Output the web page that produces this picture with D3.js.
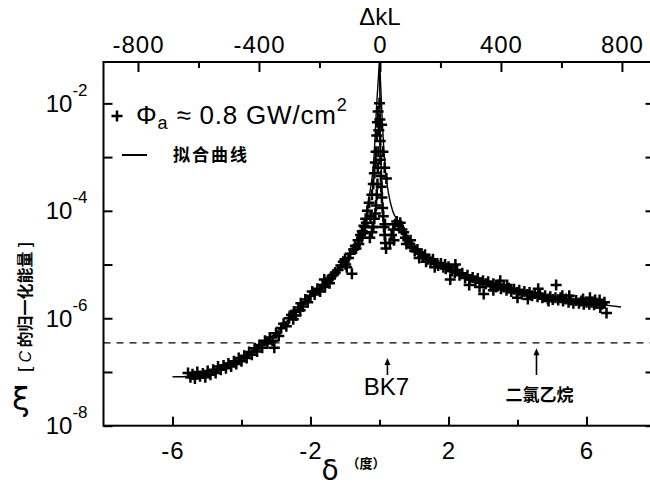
<!DOCTYPE html>
<html>
<head>
<meta charset="utf-8">
<script src="https://cdn.jsdelivr.net/npm/d3@7"></script>
<style>
body{margin:0;background:#fff}
svg{display:block}
text{fill:#000}
</style>
</head>
<body>
<svg id="chart" width="650" height="494"></svg>
<script>
// measured points: detuning delta (deg) and log10 of normalized energy xi
var ptDelta = [
  -5.55,-5.48,-5.42,-5.35,-5.28,-5.2,-5.12,-5.05,-4.98,-4.9,-4.82,-4.75,-4.68,-4.6,-4.52,-4.45,-4.38,-4.3,-4.22,-4.15,
  -4.08,-4.0,-3.92,-3.85,-3.78,-3.7,-3.62,-3.55,-3.48,-3.4,-3.32,-3.25,-3.18,-3.1,-3.05,-3.0,-2.92,-2.85,-2.78,-2.7,
  -2.62,-2.55,-2.48,-2.42,-2.35,-2.28,-2.22,-2.15,-2.08,-2.0,-1.95,-1.88,-1.8,-1.72,-1.65,-1.58,-1.5,-1.42,-1.35,-1.28,
  -1.2,-1.12,-1.05,-0.98,-0.9,-0.85,-0.8,-0.75,-0.7,-0.62,-0.55,-0.5,-0.45,-0.4,-0.35,-0.3,-0.26,-0.22,-0.2,-0.18,
  -0.15,-0.12,-0.1,-0.08,-0.06,-0.04,
  -2.5,-2.3,-1.6,-1.45,-1.0,-0.95,-0.68,-0.6,-0.52,-0.48,-0.42,-0.38,
  0.0,0.01,-0.02,0.02,-0.03,0.03,-0.05,0.04,-0.06,0.05,-0.08,0.07,-0.1,-0.12,-0.15,-0.18,-0.22,-0.28,
  0.09,0.11,0.13,0.15,0.17,0.19,0.16,
  0.06,0.1,0.15,0.2,
  0.3,0.35,0.4,0.45,0.5,0.55,0.6,0.65,0.7,0.42,
  0.75,0.82,0.88,0.95,1.02,1.1,1.18,1.25,1.32,1.4,1.48,1.55,1.62,1.7,1.78,1.85,1.92,2.0,2.05,2.1,
  2.18,2.2,2.25,2.32,2.4,2.48,2.55,2.6,2.62,2.7,2.78,2.85,2.92,3.0,3.02,3.08,3.15,3.22,3.3,3.38,
  3.45,3.5,3.52,3.6,3.68,3.75,3.82,3.9,3.98,4.0,4.05,4.12,4.2,4.28,4.35,4.42,4.5,4.58,4.6,4.65,
  4.72,4.8,4.88,4.95,5.02,5.1,5.12,5.18,5.25,5.32,5.4,5.48,5.5,5.55,5.62,5.7,5.78,5.85,5.92,6.0,
  6.08,6.1,6.15,6.22,6.3,6.38,6.4,6.45,6.52,6.58,
  0.78,0.9,1.15,1.35,1.6,1.9,2.9,3.3,3.7,4.3,4.9,5.3,5.9,6.25
]
var ptXiExp = [
  -7.02,-7.1,-7.04,-7.12,-7.0,-7.08,-7.03,-7.1,-6.98,-7.05,-6.96,-7.02,-6.9,-6.96,-6.88,-6.93,-6.84,-6.9,-6.8,-6.85,
  -6.74,-6.8,-6.7,-6.74,-6.63,-6.68,-6.56,-6.62,-6.5,-6.55,-6.42,-6.47,-6.36,-6.42,-6.55,-6.28,-6.33,-6.18,-6.1,-6.15,
  -6.0,-5.94,-5.88,-5.95,-5.8,-5.72,-5.78,-5.65,-5.7,-5.58,-5.5,-5.56,-5.45,-5.5,-5.38,-5.42,-5.3,-5.26,-5.2,-5.15,
  -5.1,-5.02,-4.95,-5.0,-4.88,-4.8,-5.17,-4.72,-4.65,-4.55,-4.45,-4.38,-4.28,-4.15,-4.0,-3.85,-4.1,-3.7,-4.3,-3.5,
  -3.3,-3.1,-2.9,-2.6,-2.35,-2.15,
  -6.02,-5.85,-5.28,-5.35,-4.9,-5.05,-4.7,-4.62,-4.5,-4.42,-4.3,-4.22,
  -2.0,-2.3,-2.5,-2.7,-2.9,-3.05,-3.2,-3.35,-3.5,-3.55,-3.7,-3.75,-3.9,-4.05,-4.15,-4.3,-4.4,-4.5,
  -3.95,-4.1,-4.3,-4.45,-4.6,-4.7,-4.25,
  -2.4,-2.9,-3.2,-3.4,
  -4.6,-4.45,-4.35,-4.25,-4.2,-4.28,-4.22,-4.35,-4.4,-4.55,
  -4.5,-4.55,-4.62,-4.68,-4.75,-4.72,-4.8,-4.85,-4.82,-4.9,-4.95,-4.9,-4.98,-5.02,-4.98,-5.05,-5.08,-5.04,-5.28,-5.12,
  -5.15,-5.0,-5.1,-5.2,-5.16,-5.25,-5.2,-5.38,-5.28,-5.24,-5.3,-5.26,-5.34,-5.3,-5.55,-5.36,-5.32,-5.4,-5.36,-5.42,
  -5.38,-5.3,-5.45,-5.42,-5.48,-5.44,-5.5,-5.46,-5.52,-5.62,-5.48,-5.55,-5.5,-5.56,-5.52,-5.58,-5.54,-5.6,-5.45,-5.56,
  -5.62,-5.58,-5.64,-5.6,-5.65,-5.62,-5.38,-5.66,-5.62,-5.68,-5.64,-5.7,-5.58,-5.66,-5.72,-5.67,-5.72,-5.68,-5.74,-5.7,
  -5.74,-5.62,-5.7,-5.75,-5.72,-5.66,-5.8,-5.74,-5.7,-5.9,
  -4.62,-4.55,-4.88,-4.95,-5.05,-5.0,-5.42,-5.48,-5.38,-5.64,-5.68,-5.58,-5.64,-5.66
]

// fitted curve, main branch and the inner branch right of the peak
var fitDelta = [-6.0,-5.7,-5.4,-5.0,-4.7,-4.4,-4.0,-3.7,-3.4,-3.0,-2.6,-2.3,-2.0,-1.6,-1.2,-0.9,-0.6,-0.45,-0.32,-0.16,-0.08,-0.03,0,
  0.03,0.07,0.12,0.18,0.26,0.38,0.55,0.7,0.9,1.2,1.6,2.05,2.5,3.0,3.5,4.0,4.5,5.0,5.5,6.0,6.5,7.0]
var fitXiExp = [-7.09,-7.09,-7.06,-7.0,-6.95,-6.87,-6.75,-6.62,-6.48,-6.27,-6.0,-5.78,-5.6,-5.35,-5.1,-4.85,-4.55,-4.3,-3.8,-3.0,-2.0,-1.5,-1.23,
  -1.6,-2.2,-2.8,-3.3,-3.67,-4.0,-4.2,-4.35,-4.55,-4.75,-4.92,-5.07,-5.2,-5.32,-5.42,-5.5,-5.56,-5.62,-5.67,-5.71,-5.75,-5.79]
var fitInnerDelta = [0.0,0.02,0.05,0.08,0.13,0.17]
var fitInnerXiExp = [-1.23,-2.5,-3.2,-3.8,-4.3,-4.67]

var limitXiExp = -6.46   // dashed reference level

var annoLabels = ['BK7', '二氯乙烷']
var annoDelta = [0.23, 4.55]
var annoTipExp = [-6.74, -6.56]

var xTicksMajor = [-6, -2, 2, 6]
var xTicksMinor = [-4, 0, 4]
var topTicksMajor = [-800, -400, 0, 400, 800]
var topTicksMinor = [-600, -200, 200, 600]
var yTickExp = [-8, -7, -6, -5, -4, -3, -2]

var latin = '"Liberation Sans", Arial, sans-serif'
var cjk = '"Noto Sans CJK SC", sans-serif'

var svg = d3.select('#chart')

var pL = 103.5, pR = 655.5, pT = 62, pB = 425.7
var x = d3.scaleLinear().domain([-8, 8]).range([pL, pR])
var xTop = d3.scaleLinear().domain([-914, 911]).range([pL, pR])
var y = d3.scaleLog().domain([1e-8, Math.pow(10, -1.23)]).range([pB, pT])
var yv = e => y(Math.pow(10, e))
var fmt = d => String(d)

// axes, ticks pointing in
function styleAxis(g){
  g.select('.domain').remove()
  g.selectAll('line').attr('stroke', '#000').attr('stroke-width', 2)
  g.attr('font-family', latin).attr('font-size', 24)
  g.selectAll('text').attr('fill', '#000').attr('letter-spacing', 1)
}

svg.append('g').attr('transform', `translate(0,${pB})`)
  .call(d3.axisBottom(x).tickValues(xTicksMajor).tickSize(-9).tickPadding(16).tickFormat(fmt))
  .call(styleAxis)
svg.append('g').attr('transform', `translate(0,${pB})`)
  .call(d3.axisBottom(x).tickValues(xTicksMinor).tickSize(-6).tickFormat(''))
  .call(styleAxis)

svg.append('g').attr('transform', `translate(0,${pT})`)
  .call(d3.axisTop(xTop).tickValues(topTicksMajor).tickSize(-10).tickPadding(9).tickFormat(fmt))
  .call(styleAxis)
svg.append('g').attr('transform', `translate(0,${pT})`)
  .call(d3.axisTop(xTop).tickValues(topTicksMinor).tickSize(-6).tickFormat(''))
  .call(styleAxis)

var yAxisG = svg.append('g').attr('transform', `translate(${pL},0)`)
  .call(d3.axisLeft(y).tickValues(yTickExp.map(e => Math.pow(10, e))).tickSize(-9).tickPadding(16).tickFormat(''))
  .call(styleAxis)
yAxisG.selectAll('.tick text').each(function(d, i){
  var e = yTickExp[i]
  if (e % 2 != 0) return
  var t = d3.select(this).attr('dy', null).attr('y', 8).attr('letter-spacing', 0)
  t.append('tspan').text('10')
  t.append('tspan').attr('font-size', 17).attr('dy', -16).text(fmt(e))
})

svg.append('g').attr('transform', `translate(${pR},0)`)
  .call(d3.axisRight(y).tickValues(yTickExp.map(e => Math.pow(10, e))).tickSize(-10).tickFormat(''))
  .call(styleAxis)

svg.append('rect')
  .attr('x', pL).attr('y', pT).attr('width', pR - pL).attr('height', pB - pT)
  .attr('fill', 'none').attr('stroke', '#000').attr('stroke-width', 2)

// dashed level
svg.append('line')
  .attr('x1', pL).attr('x2', pR)
  .attr('y1', yv(limitXiExp)).attr('y2', yv(limitXiExp))
  .attr('stroke', '#000').attr('stroke-width', 1.3).attr('stroke-dasharray', '7,6')

// fit curves
var line = d3.line().x(d => x(d[0])).y(d => yv(d[1])).curve(d3.curveMonotoneX)
svg.append('path')
  .attr('d', line(d3.zip(fitDelta, fitXiExp)))
  .attr('fill', 'none').attr('stroke', '#000').attr('stroke-width', 1.4)
svg.append('path')
  .attr('d', line(d3.zip(fitInnerDelta, fitInnerXiExp)))
  .attr('fill', 'none').attr('stroke', '#000').attr('stroke-width', 1.4)

// + markers
var plus = 'M-5.5,0H5.5M0,-5.5V5.5'
svg.append('g').selectAll('path')
  .data(d3.zip(ptDelta, ptXiExp))
  .join('path')
  .attr('transform', d => `translate(${x(d[0])},${yv(d[1])})`)
  .attr('d', plus)
  .attr('stroke', '#000').attr('stroke-width', 2.5).attr('fill', 'none')

// legend
var leg = svg.append('g')
leg.append('path').attr('d', plus).attr('transform', 'translate(117,116)')
  .attr('stroke', '#000').attr('stroke-width', 2.5)
var legT = leg.append('text').attr('x', 136).attr('y', 124)
  .attr('font-family', latin).attr('font-size', 26).attr('letter-spacing', 0.8)
legT.append('tspan').text('Φ')
legT.append('tspan').attr('font-size', 18).attr('dy', 5).text('a')
legT.append('tspan').attr('dy', -5).text(' ≈ 0.8 GW/cm')
legT.append('tspan').attr('font-size', 18).attr('dy', -13).text('2')
leg.append('line').attr('x1', 122).attr('x2', 147).attr('y1', 155).attr('y2', 155)
  .attr('stroke', '#000').attr('stroke-width', 2)
leg.append('text').attr('x', 173).attr('y', 161)
  .attr('font-family', cjk).attr('font-weight', 'bold').attr('font-size', 17)
  .attr('letter-spacing', 2).text('拟合曲线')

// annotations
annoLabels.forEach((lab, i) => {
  var ax = x(annoDelta[i]), tip = yv(annoTipExp[i])
  svg.append('line').attr('x1', ax).attr('x2', ax).attr('y1', tip + 3).attr('y2', 375)
    .attr('stroke', '#000').attr('stroke-width', 1.6)
  svg.append('path').attr('d', `M${ax - 3},${tip + 7}L${ax},${tip}L${ax + 3},${tip + 7}Z`)
    .attr('fill', '#000')
  var isCjk = /[\u4e00-\u9fff]/.test(lab)
  svg.append('text').attr('x', isCjk ? ax + 3 : ax - 1).attr('y', isCjk ? 401 : 395)
    .attr('text-anchor', 'middle')
    .attr('font-family', isCjk ? cjk : latin)
    .attr('font-weight', isCjk ? 'bold' : null)
    .attr('font-size', isCjk ? 17 : 24)
    .text(lab)
})

// axis titles
svg.append('text').attr('x', 380).attr('y', 25).attr('text-anchor', 'middle')
  .attr('font-family', latin).attr('font-size', 24).text('ΔkL')

svg.append('text').attr('x', 330).attr('y', 480).attr('text-anchor', 'middle')
  .attr('font-family', '"DejaVu Sans", sans-serif').attr('font-size', 28).text('δ')
svg.append('text').attr('x', 366).attr('y', 468).attr('text-anchor', 'middle')
  .attr('font-family', cjk).attr('font-weight', 'bold').attr('font-size', 13).text('（度）')

svg.append('text').attr('x', 21).attr('y', 410).attr('text-anchor', 'middle')
  .attr('font-family', '"DejaVu Sans", sans-serif').attr('font-size', 32).text('ξ')
var yt = svg.append('text').attr('transform', 'translate(31,307) rotate(-90)')
  .attr('text-anchor', 'middle')
  .attr('font-family', cjk).attr('font-weight', 'bold').attr('font-size', 16)
yt.append('tspan').text('[ ')
yt.append('tspan').attr('font-family', latin).attr('font-style', 'italic').attr('font-weight', 'normal').text('C')
yt.append('tspan').text(' 的归一化能量 ]')
</script>
</body>
</html>
